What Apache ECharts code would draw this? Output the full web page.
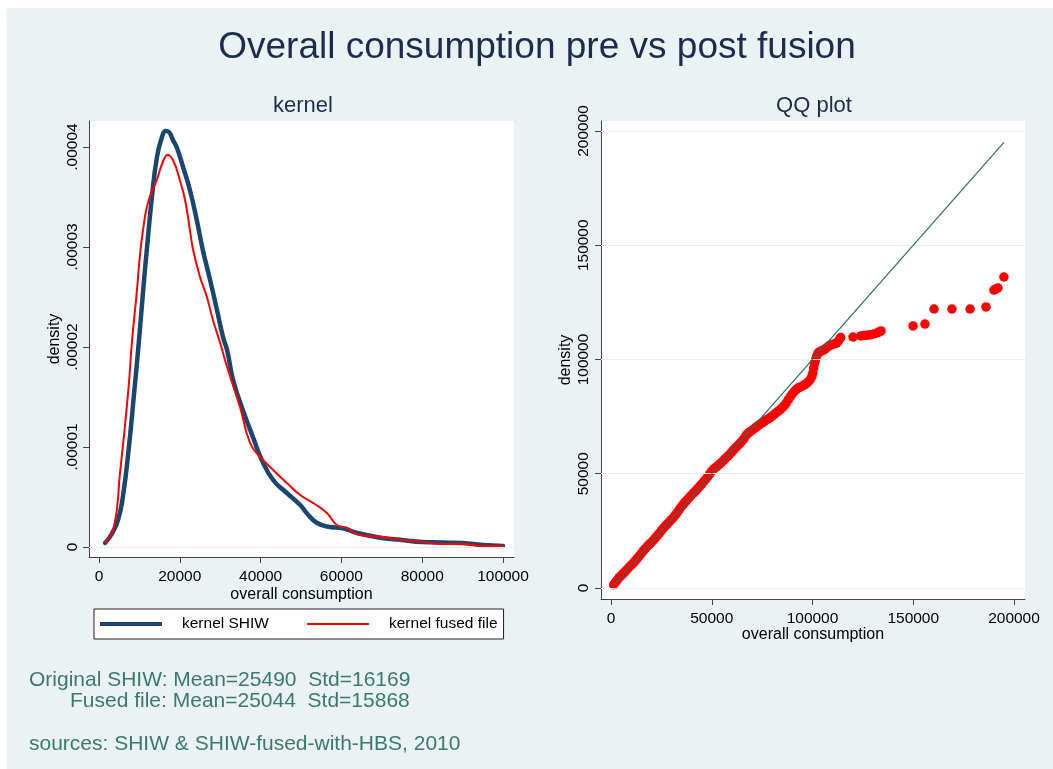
<!DOCTYPE html>
<html>
<head>
<meta charset="utf-8">
<script src="https://cdn.jsdelivr.net/npm/echarts@6/dist/echarts.min.js"></script>
<style>
html,body{margin:0;padding:0;background:#fff;}
#chart{width:1053px;height:769px;}
</style>
</head>
<body>
<div id="chart"></div>
<script>
// ---- data ----
const mainTitle = 'Overall consumption pre vs post fusion';
const leftTitle = 'kernel';
const rightTitle = 'QQ plot';
const xAxisName = 'overall consumption';
const yAxisName = 'density';
const seriesNames = ['kernel SHIW', 'kernel fused file'];
const notes = ['Original SHIW: Mean=25490  Std=16169', 'Fused file: Mean=25044  Std=15868', 'sources: SHIW & SHIW-fused-with-HBS, 2010'];

// kernel density, original SHIW (density in units of 1e-6)
const shiwX = [1500,3000,4700,5900,7400,8600,9900,11000,11900,13100,14350,15600,16500,17300,18300,19300,20800,22500,24200,25700,27500,29200,30700,31700,33200,35600,38100,40300,43100,46500,49800,51400,54000,57200,60100,63900,70000,75000,80000,85000,90000,95000,100000];
const shiwD = [0.4,1.2,2.7,5.0,10.0,15.0,20.7,26.0,30.0,35.0,39.0,41.0,41.6,41.5,40.7,39.9,38.0,35.7,32.7,29.7,26.7,23.7,21.0,19.7,16.7,13.7,11.0,8.7,6.7,5.4,4.2,3.4,2.4,2.0,1.9,1.4,0.9,0.7,0.5,0.45,0.4,0.2,0.1];
// kernel density, fused file (units of 1e-6)
const fusedX = [1500,3700,5200,7200,8200,9400,10100,10900,12100,14300,15800,17000,18300,20000,21300,22500,23300,25000,26700,28200,30000,31700,34900,37400,39900,43100,46500,49800,53000,56400,58900,61400,64600,70300,75000,80000,85000,90000,95000,100000];
const fusedD = [0.4,2.0,7.4,15.4,20.7,25.7,29.0,31.7,34.4,36.7,38.5,39.2,38.7,36.7,34.7,31.7,29.7,27.0,25.0,22.7,20.4,18.0,14.0,10.4,9.0,7.7,6.4,5.2,4.4,3.4,2.2,1.9,1.2,1.0,0.7,0.5,0.3,0.3,0.1,0.1];

// QQ plot: quantiles of SHIW (x) vs fused file (y)
const qqShiw = [1300,2000,3000,4000,5000,6000,7000,8000,9000,10000,11000,12000,13000,14000,15000,16000,17000,18000,19000,20000,21000,22000,23000,24000,25000,26000,27000,28000,29000,30000,31000,32000,33000,34000,35000,36000,37000,38000,39000,40000,41000,42000,43000,44000,45000,46000,47000,48000,49000,50000,51000,52000,53000,54000,55000,56000,57000,58000,59000,60000,61000,62000,63000,64000,65000,66000,67000,68000,69000,70000,71000,72000,73000,74000,75000,76000,77000,78000,79000,80000,81000,82000,83000,84000,85000,86000,87000,88000,89000,90000,91000,92000,93000,94000,95000,96000,97000,98000,99000,99700,100200,100600,101000,101400,102000,102700,103500,104500,105500,106200,107200,108200,109000,110000,111000,112000,112800,113500,114000,120100,124000,125500,127000,128500,130500,132000,133000,134000,149900,155800,160300,169200,178200,186100,190000,191000,192000,195000];
const qqFused = [1400,2300,3400,4500,5400,6300,7200,8100,9100,10000,10900,11900,12900,14000,15100,16200,17200,18200,19100,20000,20900,21900,22900,24000,25100,26200,27200,28100,29000,29900,30900,32000,33200,34500,35700,36800,37800,38800,39800,40700,41600,42500,43500,44500,45500,46500,47600,48700,49900,51200,52100,52800,53500,54300,55100,56000,56800,57700,58600,59600,60600,61500,62400,63300,64300,65300,66800,67700,68400,69000,69700,70400,71100,71700,72300,72900,73500,74000,74600,75200,76000,76700,77400,78100,78900,79800,81000,82400,83800,85000,86100,86900,87600,88000,88400,88900,89500,90300,91400,92600,94200,96300,98200,99600,101300,102800,103300,103800,104200,104500,105300,106000,106300,106600,106900,107200,108100,109000,109600,109800,110300,110500,110600,110800,111200,111600,112000,112500,114700,115500,122100,122100,122100,123000,130400,130800,131300,136100];
// 45-degree reference line
const qqLineX = [1500,195000];

// tick values
const kernelXTicks = [0,20000,40000,60000,80000,100000];
const kernelYTicks = [0,0.00001,0.00002,0.00003,0.00004];
const qqTicks = [0,50000,100000,150000,200000];

// ---- chart ----
const FONT = '"Liberation Sans", Arial, sans-serif';
const BG = '#eaf2f3';
const AXIS = '#444444';
const GRIDC = '#e2ebed';

const shiwData = shiwX.map((x,i)=>[x, shiwD[i]*1e-6]);
const fusedData = fusedX.map((x,i)=>[x, fusedD[i]*1e-6]);
const qqData = qqShiw.map((x,i)=>[x, qqFused[i]]);
const lineData = qqLineX.map(v=>[v,v]);

function kFmt(v){ const k = Math.round(v*1e5); return k===0 ? '0' : '.0000'+k; }
function plainFmt(v){ return String(Math.round(v)); }

function axisCommon(ticks){
  return {
    type:'value',
    axisLine:{show:true,onZero:false,lineStyle:{color:AXIS,width:1}},
    axisTick:{show:true,length:6,customValues:ticks,lineStyle:{color:AXIS}},
    axisLabel:{customValues:ticks,color:'#000',fontSize:15.5,fontFamily:FONT,formatter:plainFmt,margin:12},
    splitLine:{show:false},
    nameLocation:'middle',
    nameMoveOverlap:false,
    nameTextStyle:{color:'#000',fontSize:16,fontFamily:FONT}
  };
}

const chart = echarts.init(document.getElementById('chart'), null, {renderer:'canvas'});
const option = {
  backgroundColor: BG,
  animation:false,
  textStyle:{fontFamily:FONT},
  grid:[
    {left:89, top:121, width:425, height:436, show:true, backgroundColor:'#fff', borderWidth:0},
    {left:601, top:121, width:424, height:478, show:true, backgroundColor:'#fff', borderWidth:0}
  ],
  xAxis:[
    Object.assign(axisCommon(kernelXTicks), {gridIndex:0, min:-2475, max:102723, name:xAxisName, nameGap:30}),
    Object.assign(axisCommon(qqTicks), {gridIndex:1, min:-4963, max:205459, name:xAxisName, nameGap:28})
  ],
  yAxis:[
    (function(){const a=axisCommon(kernelYTicks); a.gridIndex=0; a.min=-0.000001; a.max=0.0000426; a.name=yAxisName; a.nameGap=26;
      a.axisLabel.rotate=90; a.axisLabel.margin=8; a.axisLabel.formatter=kFmt; return a;})(),
    (function(){const a=axisCommon(qqTicks); a.gridIndex=1; a.min=-4814; a.max=204376; a.name=yAxisName; a.nameGap=27;
      a.axisLabel.rotate=90; a.axisLabel.margin=9; return a;})()
  ],
  legend:{
    left:94, top:609,
    orient:'horizontal',
    data:[
      {name:seriesNames[0], icon:'path://M0,0L62,0L62,4L0,4Z'},
      {name:seriesNames[1], icon:'path://M0,0L62,0L62,2L0,2Z'}
    ],
    backgroundColor:'#fff', borderColor:'#222', borderWidth:1, borderRadius:0,
    padding:[7,6,7,6],
    itemGap:38, itemWidth:62, itemHeight:16,
    textStyle:{color:'#000',fontSize:15.5,fontFamily:FONT,padding:[0,0,0,15]},
    selectedMode:false
  },
  series:[
    {type:'line', name:'grid0', xAxisIndex:0, yAxisIndex:0, data:[], silent:true, z:1,
      markLine:{silent:true, symbol:'none', label:{show:false}, lineStyle:{color:GRIDC,width:1.2,type:'solid'},
        data:kernelYTicks.map(v=>({yAxis:v}))}},
    {type:'line', name:'grid1', xAxisIndex:1, yAxisIndex:1, data:[], silent:true, z:1,
      markLine:{silent:true, symbol:'none', label:{show:false}, lineStyle:{color:GRIDC,width:1.2,type:'solid'},
        data:qqTicks.map(v=>({yAxis:v}))}},
    {type:'line', name:seriesNames[0], xAxisIndex:0, yAxisIndex:0, data:shiwData, symbol:'none', showSymbol:false,
      smooth:0.5, z:3,
      lineStyle:{color:'#1a476f', width:4.5, cap:'round', join:'round'}, itemStyle:{color:'#1a476f'}},
    {type:'line', name:seriesNames[1], xAxisIndex:0, yAxisIndex:0, data:fusedData, symbol:'none', showSymbol:false,
      smooth:0.5, z:4,
      lineStyle:{color:'#ff0000', width:2, join:'round'}, itemStyle:{color:'#ff0000'}},
    {type:'scatter', name:'QQ', xAxisIndex:1, yAxisIndex:1, data:qqData, symbol:'circle', symbolSize:9.5, z:3,
      itemStyle:{color:'#ff0000', opacity:1}},
    {type:'line', name:'reference', xAxisIndex:1, yAxisIndex:1, data:lineData, symbol:'none', z:5,
      lineStyle:{color:'#2d6d60', width:1.2}}
  ],
  graphic:[
    {type:'rect', shape:{x:0,y:0,width:1053,height:8}, style:{fill:'#fff'}, z:-1, silent:true},
    {type:'rect', shape:{x:0,y:0,width:6,height:769}, style:{fill:'#fff'}, z:-1, silent:true},
    {type:'text', x:537, y:48, style:{text:mainTitle, fill:'#1c2b4e', fontSize:37, fontFamily:FONT, align:'center', verticalAlign:'middle'}},
    {type:'text', x:303, y:106, style:{text:leftTitle, fill:'#1c2b4e', fontSize:22, fontFamily:FONT, align:'center', verticalAlign:'middle'}},
    {type:'text', x:814, y:106, style:{text:rightTitle, fill:'#1c2b4e', fontSize:22, fontFamily:FONT, align:'center', verticalAlign:'middle'}},
    {type:'text', x:29, y:680, style:{text:notes[0], fill:'#3a7a6e', fontSize:21, fontFamily:FONT, align:'left', verticalAlign:'middle'}},
    {type:'text', x:70, y:701, style:{text:notes[1], fill:'#3a7a6e', fontSize:21, fontFamily:FONT, align:'left', verticalAlign:'middle'}},
    {type:'text', x:29, y:744, style:{text:notes[2], fill:'#3a7a6e', fontSize:21, fontFamily:FONT, align:'left', verticalAlign:'middle'}}
  ]
};
chart.setOption(option);
</script>
</body>
</html>
